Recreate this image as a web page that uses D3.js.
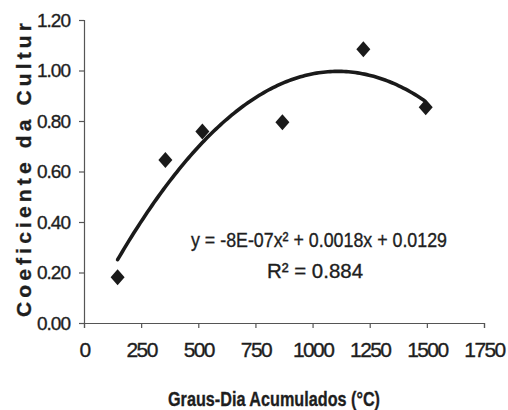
<!doctype html>
<html>
  <head>
    <meta charset="utf-8">
    <script src="https://cdnjs.cloudflare.com/ajax/libs/d3/7.8.5/d3.min.js"></script>
    <style>
      body { margin: 0; background: #fff; }
      text { font-family: "Liberation Sans", Arial, sans-serif; fill: #1e1e1e; stroke: #1e1e1e; stroke-width: 0.35; }
    </style>
  </head>
  <body>
    <svg id="chart" width="508" height="410"></svg>
    <script>
      // data
      var grausDia = [147, 356, 518, 868, 1222, 1495];
      var kc = [0.181, 0.646, 0.758, 0.795, 1.084, 0.854];
      var xTicks = [0, 250, 500, 750, 1000, 1250, 1500, 1750];
      var yTicks = [0, 0.2, 0.4, 0.6, 0.8, 1.0, 1.2];

      var svg = d3.select("#chart");
      var margin = {left: 84, top: 20, right: 24, bottom: 87};
      var w = 508 - margin.left - margin.right,
          h = 410 - margin.top - margin.bottom;

      var x = d3.scaleLinear().domain([0, 1750]).range([0, w]);
      var y = d3.scaleLinear().domain([0, 1.2]).range([h, 0]);

      var g = svg.append("g").attr("transform", "translate(" + margin.left + "," + margin.top + ")");

      // axes
      var xAxis = g.append("g").attr("transform", "translate(0," + h + ")")
        .call(d3.axisBottom(x).tickValues(xTicks).tickSize(5).tickPadding(14).tickFormat(d3.format("d")));
      var yAxis = g.append("g")
        .call(d3.axisLeft(y).tickValues(yTicks).tickSize(5).tickPadding(9).tickFormat(d3.format(".2f")));

      [xAxis, yAxis].forEach(function(a) {
        a.select(".domain").attr("stroke", "#555").attr("stroke-width", 1.2);
        a.selectAll(".tick line").attr("stroke", "#555").attr("stroke-width", 1.2);
      });
      xAxis.selectAll("text").attr("font-size", 21).attr("letter-spacing", -1.6).attr("fill", "#1e1e1e");
      yAxis.selectAll("text").attr("font-size", 19).attr("letter-spacing", -1).attr("fill", "#1e1e1e");

      // polynomial (order 2) trend line by least squares
      function fit2(xs, ys) {
        var s = [0, 0, 0, 0, 0], t = [0, 0, 0];
        xs.forEach(function(xi, i) {
          for (var k = 0; k < 5; k++) s[k] += Math.pow(xi, k);
          for (var k2 = 0; k2 < 3; k2++) t[k2] += ys[i] * Math.pow(xi, k2);
        });
        var A = [[s[0], s[1], s[2], t[0]], [s[1], s[2], s[3], t[1]], [s[2], s[3], s[4], t[2]]];
        for (var i = 0; i < 3; i++) {
          for (var j = i + 1; j < 3; j++) {
            var f = A[j][i] / A[i][i];
            for (var k = i; k < 4; k++) A[j][k] -= f * A[i][k];
          }
        }
        var c = [0, 0, 0];
        for (var i2 = 2; i2 >= 0; i2--) {
          var sum = A[i2][3];
          for (var k3 = i2 + 1; k3 < 3; k3++) sum -= A[i2][k3] * c[k3];
          c[i2] = sum / A[i2][i2];
        }
        return c;
      }
      var coef = fit2(grausDia, kc);
      var trend = d3.range(grausDia[0], grausDia[grausDia.length - 1] + 1, 10).map(function(v) {
        return [v, coef[0] + coef[1] * v + coef[2] * v * v];
      });

      g.append("path")
        .datum(trend)
        .attr("fill", "none")
        .attr("stroke", "#1a1a1a")
        .attr("stroke-width", 3.6)
        .attr("stroke-linecap", "round")
        .attr("d", d3.line().x(function(d) { return x(d[0]); }).y(function(d) { return y(d[1]); }));

      // diamond markers
      g.selectAll("path.pt")
        .data(grausDia)
        .enter()
        .append("path")
        .attr("class", "pt")
        .attr("fill", "#1a1a1a")
        .attr("d", "M0,-8L7,0L0,8L-7,0Z")
        .attr("transform", function(d, i) { return "translate(" + x(d) + "," + y(kc[i]) + ")"; });

      // equation
      svg.append("text").attr("x", 191).attr("y", 247).attr("font-size", 20)
        .attr("textLength", 256).attr("lengthAdjust", "spacingAndGlyphs")
        .text("y = -8E-07x² + 0.0018x + 0.0129");

      svg.append("text").attr("x", 267).attr("y", 278).attr("font-size", 20)
        .attr("textLength", 96).attr("lengthAdjust", "spacingAndGlyphs")
        .text("R² = 0.884");

      // axis titles
      svg.append("text")
        .attr("x", 168).attr("y", 406)
        .attr("font-size", 21).attr("font-weight", "bold")
        .attr("textLength", 212).attr("lengthAdjust", "spacingAndGlyphs")
        .text("Graus-Dia Acumulados (°C)");

      svg.append("text")
        .attr("transform", "translate(31,170) rotate(-90)")
        .attr("text-anchor", "middle")
        .attr("font-size", 21).attr("font-weight", "bold")
        .attr("textLength", 294).attr("lengthAdjust", "spacing")
        .text("Coeficiente da Cultur");
    </script>
  </body>
</html>
